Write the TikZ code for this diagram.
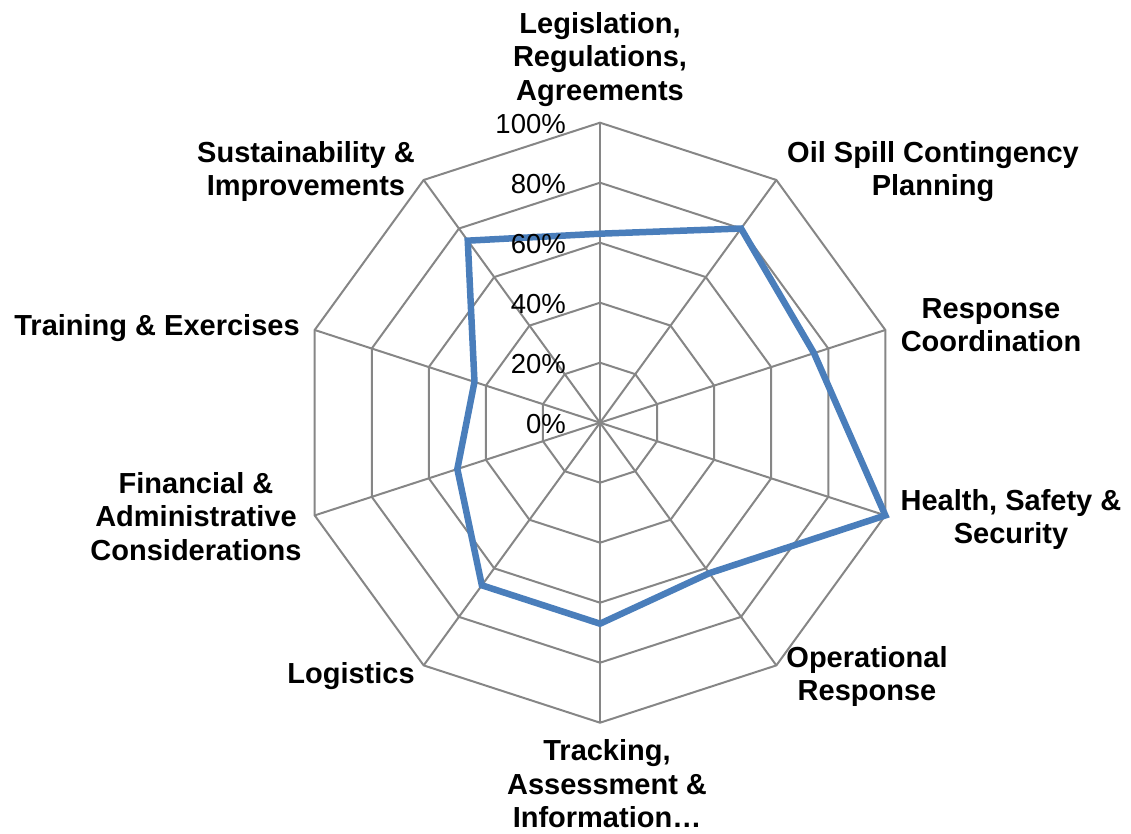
\documentclass[tikz,border=0pt]{standalone}
\usepackage{fontspec}
\setmainfont{Liberation Sans}
\usetikzlibrary{calc}
\definecolor{gridgray}{RGB}{134,134,134}
\definecolor{serieblue}{RGB}{74,126,187}
\tikzset{
  gridline/.style={draw=gridgray, line width=2pt},
  series/.style={draw=serieblue, line width=6.5pt, line join=miter},
  axislabel/.style={font=\bfseries\fontsize{29}{33.5}\selectfont, align=center, inner sep=0pt, anchor=center},
  pctlabel/.style={font=\fontsize{27.5}{30}\selectfont, inner sep=0pt, anchor=base east}
}
\begin{document}
\begin{tikzpicture}[x=1pt,y=1pt]
\useasboundingbox (0,0) rectangle (1131,834);
\coordinate (O) at (600,411.3);
% grid rings
\foreach \r in {60,120,180,240,300}{
  \draw[gridline] ($(O)+(90:\r)$) \foreach \a in {54,18,-18,-54,-90,-126,-162,162,126}{ -- ($(O)+(\a:\r)$)} -- cycle;
}
% spokes
\foreach \a/\n in {90/leg,54/oil,18/resp,-18/hss,-54/oper,-90/track,-126/logi,-162/fin,162/train,126/sust}{
  \coordinate (v\n) at ($(O)+(\a:300)$);
  \draw[gridline] (O) -- (v\n);
}
% data points
\foreach \a/\v/\n in {90/63/leg,54/80/oil,18/75/resp,-18/100/hss,-54/62/oper,-90/67/track,-126/67/logi,-162/50/fin,162/44/train,126/75/sust}{
  \coordinate (d\n) at ($(O)+(\a:3*\v)$);
}
\draw[series] (dleg) -- (doil) -- (dresp) -- (dhss) -- (doper) -- (dtrack) -- (dlogi) -- (dfin) -- (dtrain) -- (dsust) -- cycle;
% percentage labels
\foreach \k/\t in {0/0\%,1/20\%,2/40\%,3/60\%,4/80\%,5/100\%}{
  \node[pctlabel] (p\k) at (566,{834-(422.7-60*\k+10.5)}) {\t};
}
% axis labels
\node[axislabel] (lleg) at (600,{834-59.3}) {Legislation,\\Regulations,\\Agreements};
\node[axislabel] (loil) at (933,{834-171.8}) {Oil Spill Contingency\\Planning};
\node[axislabel] (lresp) at (991,{834-325}) {Response\\Coordination};
\node[axislabel] (lhss) at (1011,{834-519.3}) {Health, Safety \&\\Security};
\node[axislabel] (loper) at (867,{834-676.3}) {Operational\\Response};
\node[axislabel] (ltrack) at (607,{834-784}) {Tracking,\\Assessment \&\\Information…};
\node[axislabel] (llogi) at (351,{834-675.8}) {Logistics};
\node[axislabel] (lfin) at (196,{834-516.5}) {Financial \&\\Administrative\\Considerations};
\node[axislabel] (ltrain) at (157,{834-327.8}) {Training \& Exercises};
\node[axislabel] (lsust) at (306,{834-171.3}) {Sustainability \&\\Improvements};
\end{tikzpicture}
\end{document}
